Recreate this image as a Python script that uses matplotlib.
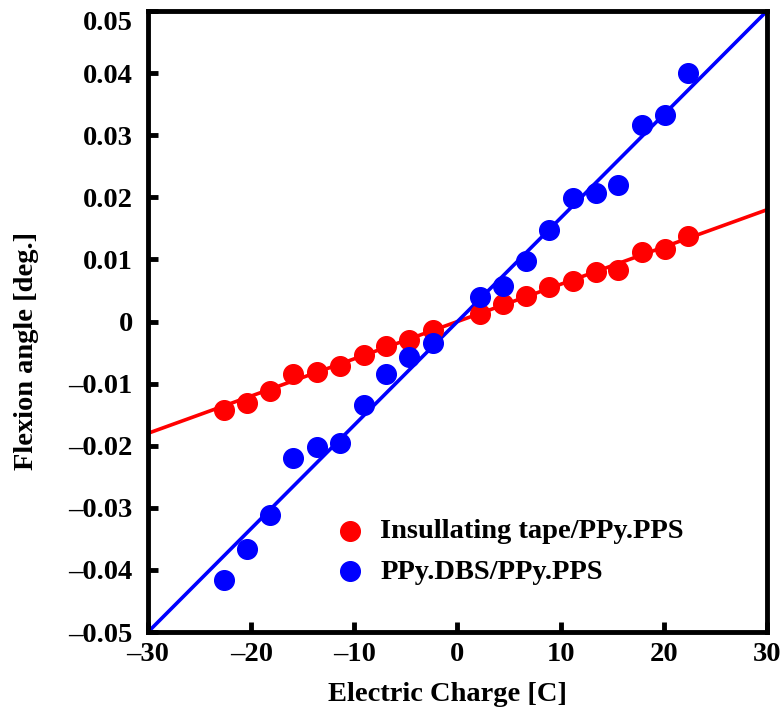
import matplotlib.pyplot as plt
import numpy as np
from matplotlib.ticker import FuncFormatter

plt.rcParams["font.family"] = ["Liberation Serif", "DejaVu Serif"]
plt.rcParams["font.weight"] = "bold"

# electric charge [C] (same for both samples)
charge = [-22.6, -20.4, -18.2, -15.9, -13.6, -11.4, -9.1, -6.9, -4.7, -2.4,
          2.2, 4.4, 6.6, 8.9, 11.2, 13.4, 15.6, 17.9, 20.1, 22.3]

# flexion angle [deg.]
tape_angle = [-0.0142, -0.0131, -0.0112, -0.0085, -0.0081, -0.0072, -0.0054, -0.0040, -0.0030, -0.0014,
              0.0012, 0.0028, 0.0041, 0.0055, 0.0066, 0.0080, 0.0083, 0.0112, 0.0117, 0.0138]
dbs_angle = [-0.0416, -0.0367, -0.0312, -0.0220, -0.0202, -0.0196, -0.0134, -0.0085, -0.0057, -0.0035,
             0.0039, 0.0057, 0.0097, 0.0147, 0.0199, 0.0207, 0.0220, 0.0316, 0.0333, 0.0400]

# linear fits (slope through origin)
tape_slope = 0.0006
dbs_slope = 0.001667

FS = 20.5

fig = plt.figure(figsize=(7.8, 7.21), dpi=100)
ax = fig.add_axes([0.1897, 0.1234, 0.7936, 0.8613])

xl = np.array([-30, 30])
ax.plot(xl, tape_slope * xl, color="red", lw=2.6, zorder=2)
ax.plot(xl, dbs_slope * xl, color="blue", lw=2.6, zorder=2)
ax.scatter(charge, tape_angle, s=200, color="red", zorder=3, label="Insullating tape/PPy.PPS")
ax.scatter(charge, dbs_angle, s=200, color="blue", zorder=3, label="PPy.DBS/PPy.PPS")

ax.set_xlim(-30, 30)
ax.set_ylim(-0.05, 0.05)
ax.set_xticks(np.arange(-30, 31, 10))
ax.set_yticks(np.linspace(-0.05, 0.05, 11))


def yfmt(v, pos):
    if abs(v) < 1e-9:
        return "0"
    return f"{v:.2f}".replace("-", "\u2013")


def xfmt(v, pos):
    return f"{v:.0f}".replace("-", "\u2013")


ax.yaxis.set_major_formatter(FuncFormatter(yfmt))
ax.xaxis.set_major_formatter(FuncFormatter(xfmt))
ax.tick_params(direction="in", length=7, width=3.5, labelsize=FS)
ax.tick_params(axis="y", pad=11)
ax.tick_params(axis="x", pad=7)
for s in ax.spines.values():
    s.set_linewidth(3.5)

ax.set_xlabel("Electric Charge [C]", fontsize=FS, fontweight="bold", va="center")
ax.set_ylabel("Flexion angle [deg.]", fontsize=FS, fontweight="bold", va="center")
ax.xaxis.set_label_coords(0.484, -0.1)
ax.yaxis.set_label_coords(-0.1955, 0.4525)

ax.legend(loc="center left", bbox_to_anchor=(0.3037, 0.1296), frameon=False,
          prop={"size": FS, "weight": "bold"}, handlelength=1.0, handletextpad=0.55,
          labelspacing=0.5, borderpad=0, borderaxespad=0, scatterpoints=1)

# top label sits a bit lower in the original so it is not cut off
fig.canvas.draw()
ax.get_yticklabels()[-1].set_va("top")

fig.savefig("out.png", dpi=100)
